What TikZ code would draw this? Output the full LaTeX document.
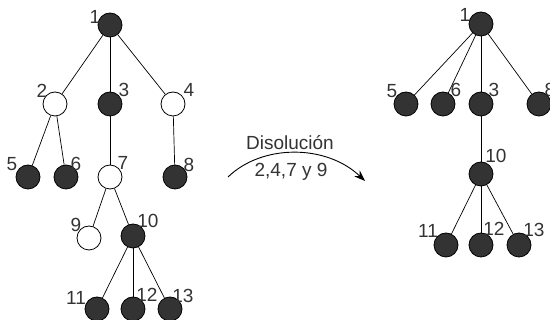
\documentclass[tikz,border=0pt]{standalone}
\usepackage{fontspec}
\setmainfont{Liberation Sans}
\usetikzlibrary{arrows.meta}
\definecolor{nodefill}{HTML}{333333}
\definecolor{txt}{HTML}{333333}
\begin{document}
\begin{tikzpicture}[x=1pt,y=-1pt,
  full/.style={circle,draw=black,fill=nodefill,line width=0.8pt,minimum size=24pt,inner sep=0pt},
  empty/.style={circle,draw=black,fill=white,line width=0.8pt,minimum size=24pt,inner sep=0pt},
  lbl/.style={text=txt,font=\fontsize{19}{21}\selectfont,inner sep=0pt},
  edge/.style={draw=black,line width=0.7pt}]
\useasboundingbox (0,0) rectangle (550,320);
% left tree
\node[full]  (a1)  at (110,25) {};
\node[empty] (a2)  at (55,104) {};
\node[full]  (a3)  at (110,104) {};
\node[empty] (a4)  at (173,104) {};
\node[full]  (a5)  at (28,177) {};
\node[full]  (a6)  at (66,177) {};
\node[empty] (a7)  at (110,177) {};
\node[full]  (a8)  at (175,177) {};
\node[empty] (a9)  at (89,238) {};
\node[full]  (a10) at (133,236) {};
\node[full]  (a11) at (97,309) {};
\node[full]  (a12) at (133,309) {};
\node[full]  (a13) at (170,309) {};
\foreach \p/\c in {a1/a2,a1/a3,a1/a4,a2/a5,a2/a6,a3/a7,a4/a8,a7/a9,a7/a10,a10/a11,a10/a12,a10/a13}
  \draw[edge] (\p) -- (\c);
\node[lbl] (la1)  at (95,17) {1};
\node[lbl] (la2)  at (42,91) {2};
\node[lbl] (la3)  at (124,90) {3};
\node[lbl] (la4)  at (189,90) {4};
\node[lbl] (la5)  at (12,164) {5};
\node[lbl] (la6)  at (76,164) {6};
\node[lbl] (la7)  at (123,163) {7};
\node[lbl] (la8)  at (189,165) {8};
\node[lbl] (la9)  at (76,225) {9};
\node[lbl] (la10) at (148,221) {10};
\node[lbl] (la11) at (76,298) {11};
\node[lbl] (la12) at (147,295) {12};
\node[lbl] (la13) at (183,296) {13};
% arrow
\coordinate (s) at (228,177);
\coordinate (e) at (365,181);
\draw[line width=0.9pt,-{Stealth[length=11pt,width=8pt]}] (s) .. controls (262,144) and (326,144) .. (e);
\node[lbl] (t1) at (290,143) {Disolución};
\node[lbl] (t2) at (291,172) {2,4,7 y 9};
% right tree
\node[full] (b1)  at (481,24) {};
\node[full] (b5)  at (406,104) {};
\node[full] (b6)  at (443,104) {};
\node[full] (b3)  at (481,104) {};
\node[full] (b8)  at (539,104) {};
\node[full] (b10) at (481,174) {};
\node[full] (b11) at (446,245) {};
\node[full] (b12) at (481,245) {};
\node[full] (b13) at (519,245) {};
\foreach \p/\c in {b1/b5,b1/b6,b1/b3,b1/b8,b3/b10,b10/b11,b10/b12,b10/b13}
  \draw[edge] (\p) -- (\c);
\node[lbl] (lb1)  at (465,15) {1};
\node[lbl] (lb5)  at (392,91) {5};
\node[lbl] (lb6)  at (456,90) {6};
\node[lbl] (lb3)  at (494,90) {3};
\node[lbl] (lb8)  at (550,90) {8};
\node[lbl] (lb10) at (496,156) {10};
\node[lbl] (lb11) at (428,231) {11};
\node[lbl] (lb12) at (494,229) {12};
\node[lbl] (lb13) at (534,230) {13};
\end{tikzpicture}
\end{document}
